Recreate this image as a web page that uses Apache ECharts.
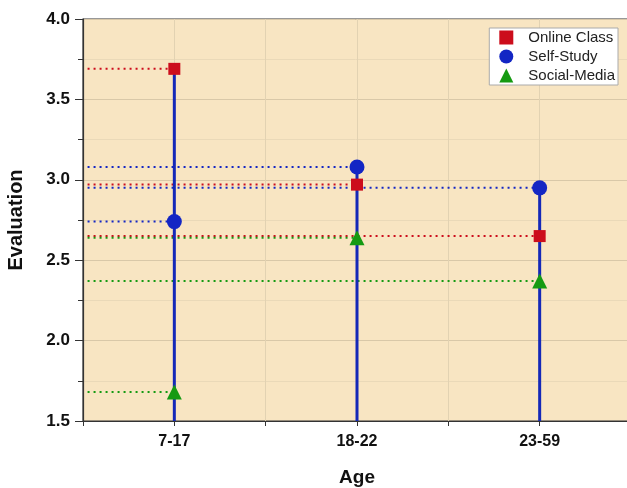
<!DOCTYPE html>
<html>
<head>
<meta charset="utf-8">
<script src="https://cdn.jsdelivr.net/npm/echarts@6/dist/echarts.min.js"></script>
<style>html,body{margin:0;padding:0;background:#fff;overflow:hidden;}#c{width:627px;height:488px;}</style>
</head>
<body>
<div id="c"></div>
<script>
var categories = ['7-17', '18-22', '23-59'];
var onlineClass = [3.69, 2.97, 2.65];
var selfStudy = [2.74, 3.08, 2.95];
var socialMedia = [1.68, 2.64, 2.37];
var yTicks = [1.5, 2.0, 2.5, 3.0, 3.5, 4.0];

var seriesDefs = [
  {name: 'Online Class', values: onlineClass, color: '#cc0d1c', symbol: 'rect', size: 12},
  {name: 'Self-Study', values: selfStudy, color: '#1326c4', symbol: 'circle', size: 15},
  {name: 'Social-Media', values: socialMedia, color: '#159a12', symbol: 'triangle', size: 15}
];

var yMin = yTicks[0], yMax = yTicks[yTicks.length - 1];
var xMin = -0.5, xMax = categories.length - 0.5;
var FONT = 'Liberation Sans, Arial, sans-serif';

var series = [];
// dotted guide lines from the left axis to each marker
seriesDefs.forEach(function (s) {
  s.values.forEach(function (v, i) {
    series.push({
      type: 'line', silent: true, symbol: 'none', z: 2,
      data: [[xMin + 0.025, v], [i, v]],
      lineStyle: {color: s.color, width: 2, type: [2, 4]}
    });
  });
});
// vertical stems
categories.forEach(function (c, i) {
  var top = Math.max(onlineClass[i], selfStudy[i], socialMedia[i]);
  series.push({
    type: 'line', silent: true, symbol: 'none', z: 3,
    data: [[i, yMin], [i, top]],
    lineStyle: {color: '#1428b8', width: 3}
  });
});
// markers
seriesDefs.forEach(function (s) {
  series.push({
    name: s.name, type: 'scatter', z: 5,
    symbol: s.symbol, symbolSize: s.size,
    itemStyle: {color: s.color, opacity: 1},
    data: s.values.map(function (v, i) { return [i, v]; })
  });
});

var chart = echarts.init(document.getElementById('c'), null, {renderer: 'canvas'});
chart.setOption({
  animation: false,
  backgroundColor: '#ffffff',
  grid: {left: 83, width: 548, top: 19, height: 402, show: true,
         containLabel: false, outerBoundsMode: 'none',
         backgroundColor: '#f8e5c2', borderColor: '#333', borderWidth: 1.2},
  legend: {
    data: seriesDefs.map(function (s) { return {name: s.name, icon: s.symbol}; }),
    orient: 'vertical', right: 9, top: 28,
    backgroundColor: '#ffffff', borderColor: '#aaaaaa', borderWidth: 1,
    padding: [2, 3, 2, 10], itemGap: 4, itemWidth: 14, itemHeight: 14,
    textStyle: {fontFamily: FONT, fontSize: 15, color: '#222', padding: [0, 0, 0, 10]}
  },
  xAxis: {
    type: 'value', min: xMin, max: xMax, interval: 0.5,
    name: 'Age', nameLocation: 'middle', nameGap: 47,
    nameTextStyle: {fontFamily: FONT, fontSize: 19, fontWeight: 'bold', color: '#111'},
    axisLine: {show: true, onZero: false, lineStyle: {color: '#333', width: 1.2}},
    axisTick: {show: true, length: 5, lineStyle: {color: '#333'}},
    axisLabel: {
      margin: 13,
      fontFamily: FONT, fontSize: 16, fontWeight: 'bold', color: '#111',
      formatter: function (v) {
        var r = Math.round(v);
        return (Math.abs(v - r) < 1e-6 && r >= 0 && r < categories.length) ? categories[r] : '';
      }
    },
    splitLine: {show: true, lineStyle: {color: '#e2d2b2', width: 1}}
  },
  yAxis: {
    type: 'value', min: yMin, max: yMax, interval: 0.5,
    name: 'Evaluation', nameLocation: 'middle', nameGap: 57,
    nameTextStyle: {fontFamily: FONT, fontSize: 20, fontWeight: 'bold', color: '#111'},
    axisLine: {show: true, onZero: false, lineStyle: {color: '#333', width: 1.2}},
    axisTick: {show: true, length: 8, lineStyle: {color: '#333'}},
    minorTick: {show: true, splitNumber: 2, length: 5, lineStyle: {color: '#333'}},
    axisLabel: {
      margin: 13,
      fontFamily: FONT, fontSize: 17, fontWeight: 'bold', color: '#111',
      formatter: function (v) { return v.toFixed(1); }
    },
    splitLine: {show: true, lineStyle: {color: '#d9c8a8', width: 1}},
    minorSplitLine: {show: true, lineStyle: {color: '#ead9b8', width: 1}}
  },
  series: series
});
</script>
</body>
</html>
